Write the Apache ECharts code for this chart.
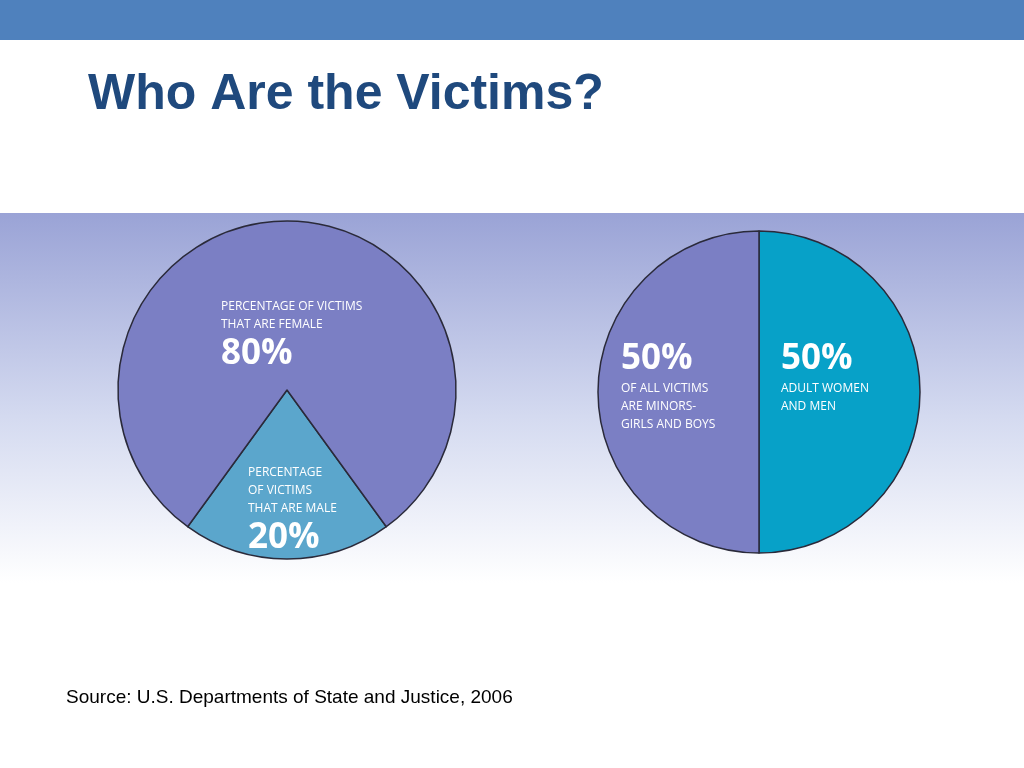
<!DOCTYPE html>
<html><head><meta charset="utf-8">
<script src="https://cdn.jsdelivr.net/npm/echarts@6/dist/echarts.min.js"></script>
<style>html,body{margin:0;padding:0;background:#fff}#c{width:1024px;height:768px}</style>
</head><body><div id="c"></div>
<script>
var genderNames = ['Male', 'Female'];
var genderValues = [20, 80];
var ageNames = ['Adult women and men', 'Minors'];
var ageValues = [50, 50];

var chart = echarts.init(document.getElementById('c'));
function txt(x, y, small, big, bigFirst) {
  var t = bigFirst ? '{b|' + big + '}\n{s|' + small + '}' : '{s|' + small + '}\n{b|' + big + '}';
  return {type: 'text', left: x, top: y, z: 10, style: {text: t, rich: {
    s: {fontFamily: 'Open Sans', fontSize: 12, lineHeight: 18, fill: '#fff', color: '#fff'},
    b: {fontFamily: 'Open Sans', fontSize: 35, fontWeight: 'bold', lineHeight: 40, fill: '#fff', color: '#fff'}
  }}};
}
chart.setOption({
  animation: false,
  graphic: [
    {type: 'rect', shape: {x: 0, y: 0, width: 1024, height: 40}, style: {fill: '#4f81bd'}},
    {type: 'rect', shape: {x: 0, y: 213, width: 1024, height: 370}, z: -1,
      style: {fill: new echarts.graphic.LinearGradient(0, 0, 0, 1, [
        {offset: 0, color: '#9aa3d6'}, {offset: 0.55, color: '#d4daf0'}, {offset: 1, color: '#ffffff'}])}},
    {type: 'text', left: 88, top: 70, style: {text: 'Who Are the Victims?', fontFamily: 'Liberation Sans Narrow, Arial', fontSize: 50, fontWeight: 'bold', fill: '#1f497d'}},
    {type: 'text', left: 66, top: 688, style: {text: 'Source: U.S. Departments of State and Justice, 2006', fontFamily: 'Liberation Sans, Arial', fontSize: 19, fill: '#000'}},
    txt(221, 301, 'PERCENTAGE OF VICTIMS\nTHAT ARE FEMALE', '80%', false),
    txt(248, 467, 'PERCENTAGE\nOF VICTIMS\nTHAT ARE MALE', '20%', false),
    txt(621, 342, 'OF ALL VICTIMS\nARE MINORS-\nGIRLS AND BOYS', '50%', true),
    txt(781, 342, 'ADULT WOMEN\nAND MEN', '50%', true)
  ],
  series: [
    {type: 'pie', center: [287, 390], radius: [0, 169], startAngle: 306, label: {show: false},
      itemStyle: {borderColor: '#2a2a3a', borderWidth: 1.5}, silent: true,
      data: genderNames.map(function (n, i) { return {name: n, value: genderValues[i], itemStyle: {color: i === 0 ? '#5ba6cc' : '#7b7fc4'}}; })},
    {type: 'pie', center: [759, 392], radius: [0, 161], startAngle: 90, label: {show: false},
      itemStyle: {borderColor: '#2a2a3a', borderWidth: 1.5}, silent: true,
      data: ageNames.map(function (n, i) { return {name: n, value: ageValues[i], itemStyle: {color: i === 0 ? '#07a1c8' : '#7b7fc4'}}; })}
  ]
});
</script></body></html>
